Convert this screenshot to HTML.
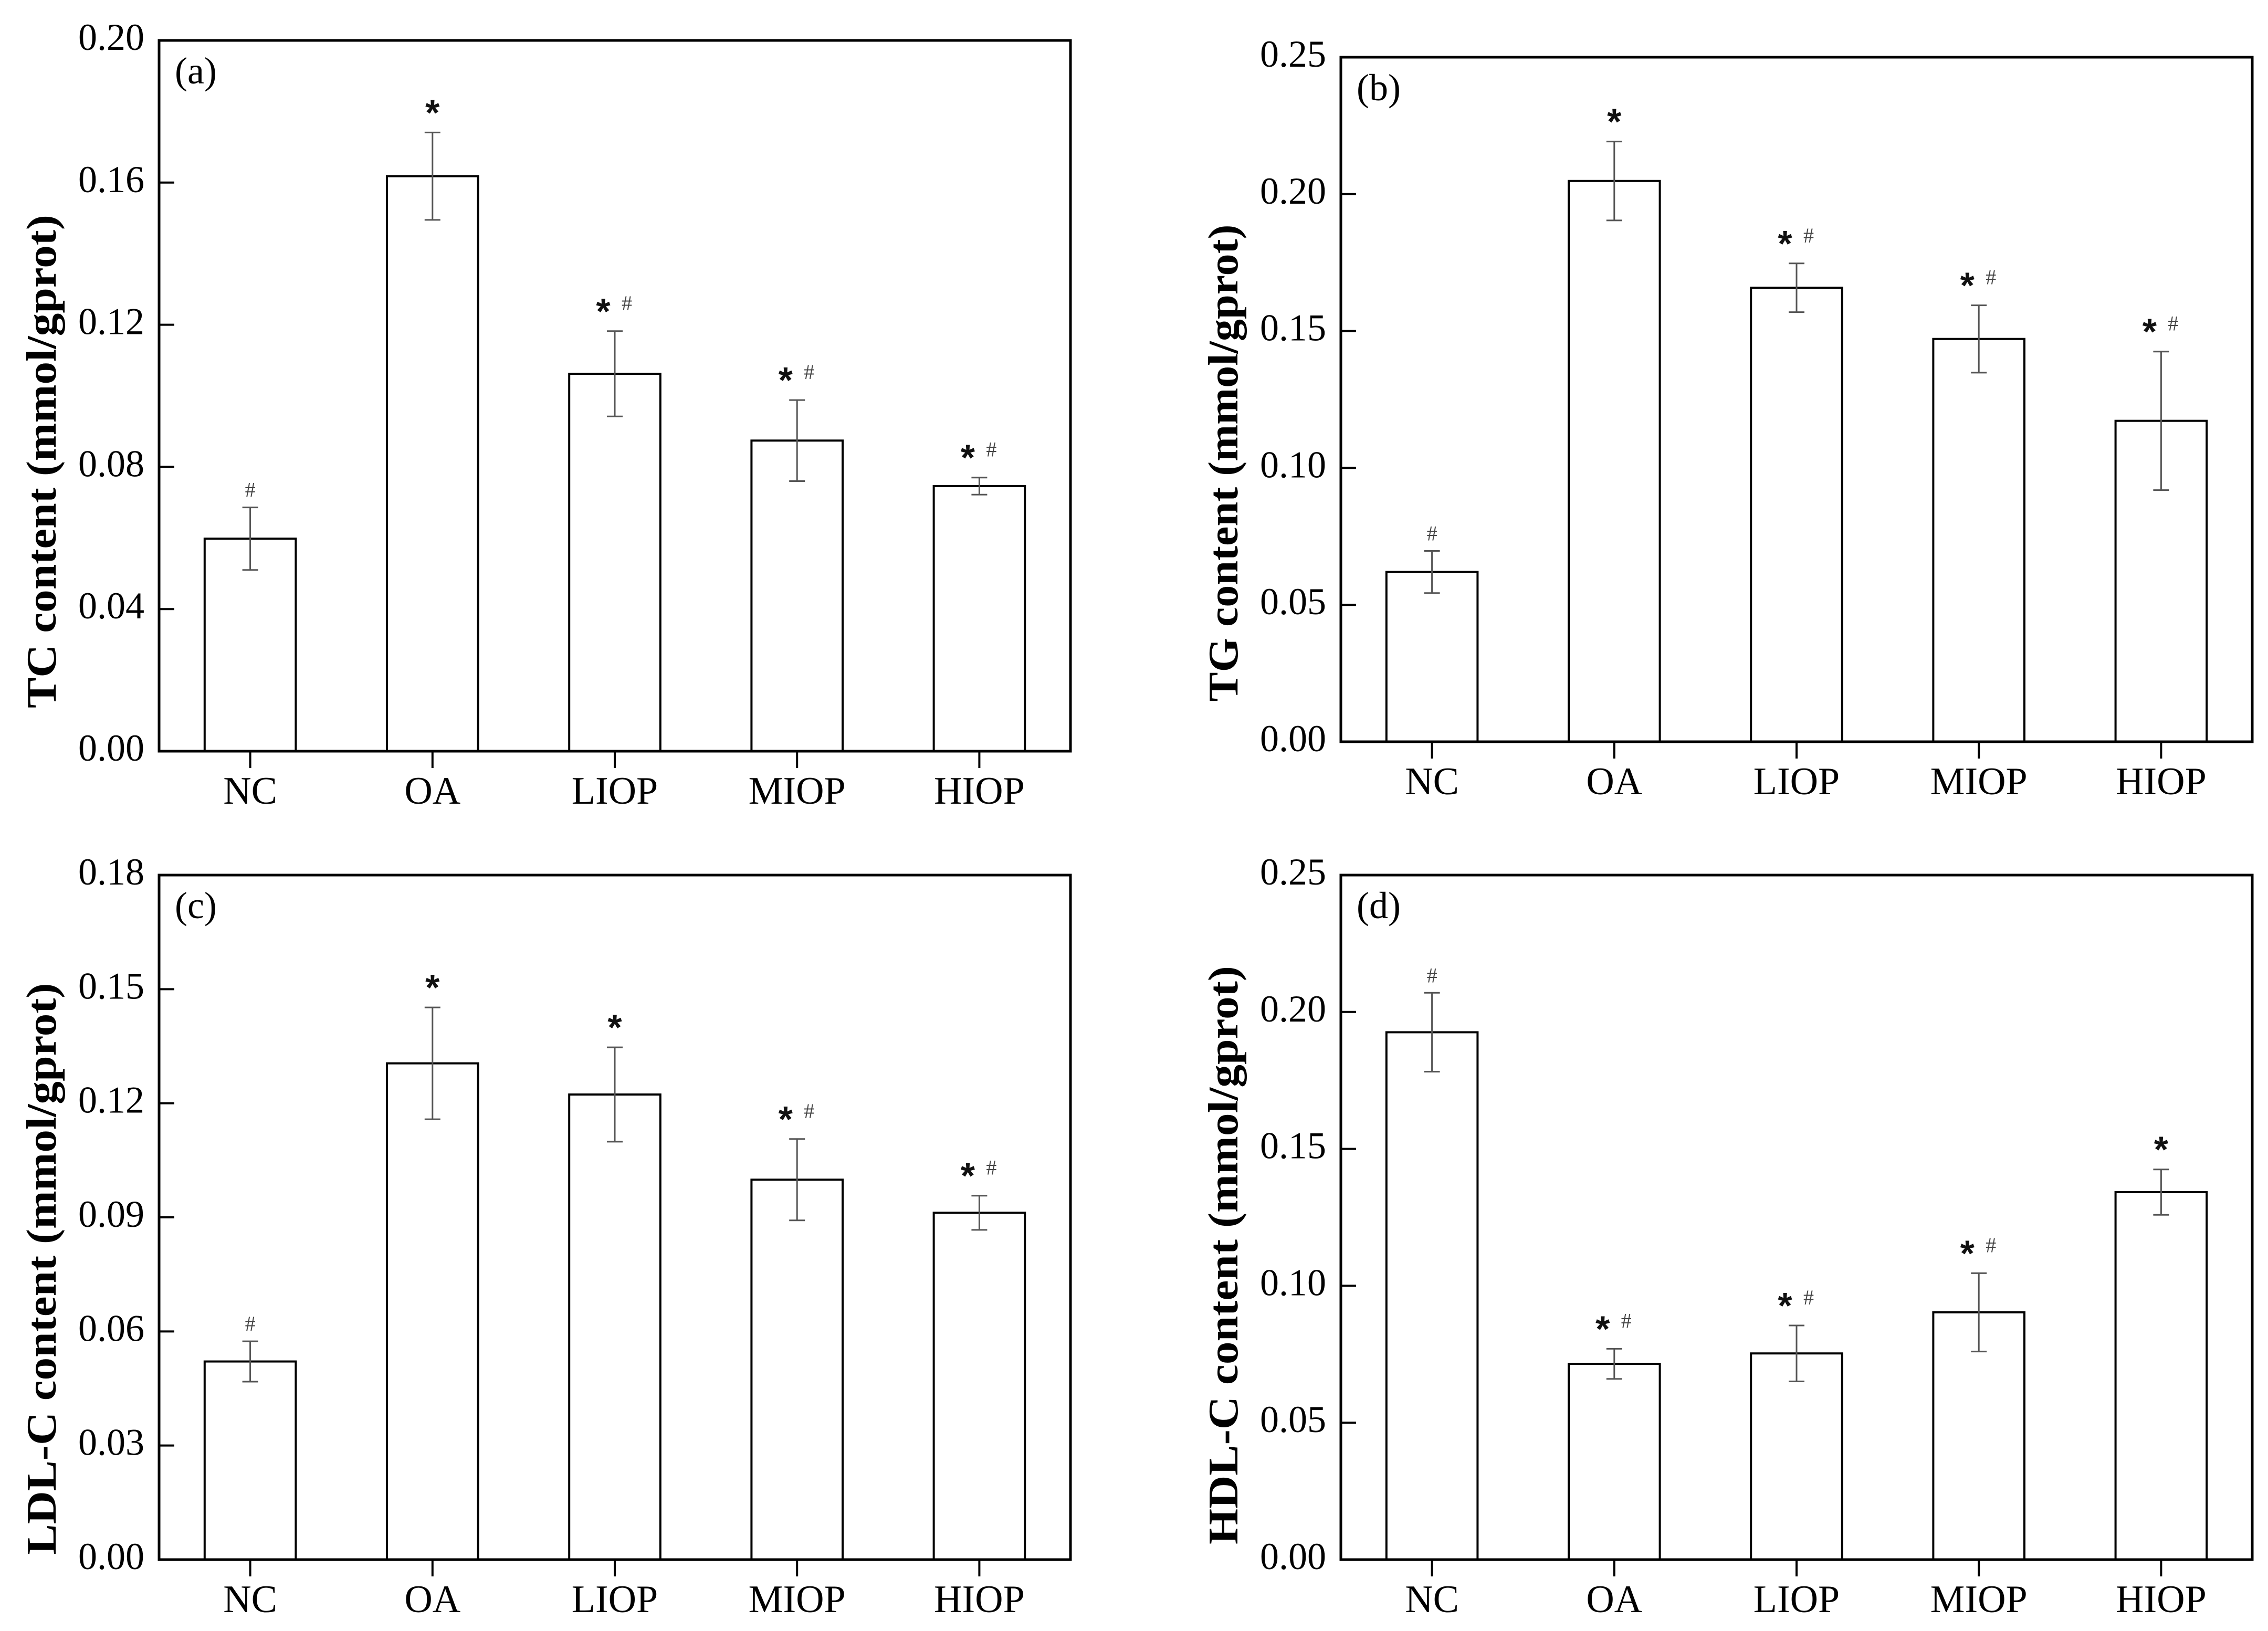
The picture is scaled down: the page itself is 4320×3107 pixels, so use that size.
<!DOCTYPE html>
<html><head><meta charset="utf-8"><title>Lipid content panels</title>
<style>
html,body{margin:0;padding:0;background:#fff;}
svg{display:block;}
</style></head>
<body>
<svg id="fig" xmlns="http://www.w3.org/2000/svg" width="4320" height="3107" viewBox="0 0 4320 3107">
<rect x="0" y="0" width="4320" height="3107" fill="#fff"/>
</svg>
<script>
const categories = ["NC","OA","LIOP","MIOP","HIOP"];
const tcMean  = [0.0598,0.1618,0.1062,0.0874,0.0746];
const tcErr   = [0.0088,0.0123,0.0120,0.0114,0.0024];
const tcMarks = ["#","*","*#","*#","*#"];
const tcTicks = ["0.00","0.04","0.08","0.12","0.16","0.20"];
const tgMean  = [0.0620,0.2048,0.1658,0.1471,0.1172];
const tgErr   = [0.0077,0.0144,0.0089,0.0123,0.0253];
const tgMarks = ["#","*","*#","*#","*#"];
const tgTicks = ["0.00","0.05","0.10","0.15","0.20","0.25"];
const ldlMean = [0.0521,0.1305,0.1223,0.0999,0.0912];
const ldlErr  = [0.0053,0.0147,0.0124,0.0107,0.0045];
const ldlMarks= ["#","*","*","*#","*#"];
const ldlTicks= ["0.00","0.03","0.06","0.09","0.12","0.15","0.18"];
const hdlMean = [0.1926,0.0715,0.0753,0.0903,0.1342];
const hdlErr  = [0.0144,0.0055,0.0102,0.0143,0.0083];
const hdlMarks= ["#","*#","*#","*#","*"];
const hdlTicks= ["0.00","0.05","0.10","0.15","0.20","0.25"];

const NS="http://www.w3.org/2000/svg";
const svg=document.getElementById('fig');
function mk(tag,attrs,parent){const e=document.createElementNS(NS,tag);for(const k in attrs)e.setAttribute(k,attrs[k]);(parent||svg).appendChild(e);return e;}

function panel(id,L,T,B,ymax,ticks,means,errs,marks,label,title,titleX,titleC,titleLen){
  const W=1736, R=L+W;
  const g=mk('g',{});
  
  
  const y=v=>B-(v/ymax)*(B-T);
  const step=W/categories.length;
  const x=i=>L+step*(i+0.5);
  const bw=step*0.5;
  // bars
  categories.forEach((c,i)=>{
    const r=mk('rect',{x:x(i)-bw/2,y:y(means[i]),width:bw,height:B-y(means[i]),fill:'#fff',stroke:'#000','stroke-width':4},g);
    
    
    const top=y(means[i]+errs[i]), bot=y(means[i]-errs[i]);
    const eg=mk('g',{stroke:'#555','stroke-width':3},g);
    
    
    mk('line',{x1:x(i),x2:x(i),y1:top,y2:bot},eg);
    mk('line',{x1:x(i)-15,x2:x(i)+15,y1:top,y2:top},eg);
    mk('line',{x1:x(i)-15,x2:x(i)+15,y1:bot,y2:bot},eg);
    const m=marks[i]; const cy=top-54;
    if(m.indexOf('*')>=0){
      const sx = m.length>1 ? x(i)-22 : x(i);
      const s=mk('text',{x:sx,y:cy+40,'text-anchor':'middle','font-family':'"Liberation Sans",sans-serif','font-weight':'bold','font-size':70,fill:'#111'},g);
      s.textContent='*';
      
      
    }
    if(m.indexOf('#')>=0){
      const hx = m.length>1 ? x(i)+23 : x(i);
      const hy = m.length>1 ? cy : top-34;
      const h=mk('text',{x:hx,y:hy+14,'text-anchor':'middle','font-family':'"Liberation Serif",serif','font-size':40,fill:'#444'},g);
      h.textContent='#';
      
      
    }
    // x tick + label
    const tk=mk('line',{x1:x(i),x2:x(i),y1:B,y2:B+32,stroke:'#000','stroke-width':4},g);
    
    
    const xl=mk('text',{x:x(i),y:B+100,'text-anchor':'middle','font-family':'"Liberation Serif",serif','font-size':74,fill:'#000'},g);
    xl.textContent=c;
    
    
  });
  // y ticks
  ticks.forEach(t=>{
    const v=parseFloat(t), yy=y(v);
    if(v>0&&v<ymax){const l=mk('line',{x1:L,x2:L+29,y1:yy,y2:yy,stroke:'#000','stroke-width':4},g);
      
      }
    const tl=mk('text',{x:L-28,y:yy+18,'text-anchor':'end','font-family':'"Liberation Serif",serif','font-size':72,fill:'#000'},g);
    tl.textContent=t;
    
    
  });
  // frame
  const fr=mk('rect',{x:L,y:T,width:W,height:B-T,fill:'none',stroke:'#000','stroke-width':5},g);
  
  
  const pl=mk('text',{x:L+30,y:T+82,'font-family':'"Liberation Serif",serif','font-size':72,fill:'#000'},g);
  pl.textContent=label;
  
  
  const yt=mk('text',{x:titleX,y:titleC,'text-anchor':'middle','font-family':'"Liberation Serif",serif','font-weight':'bold','font-size':80,fill:'#000',textLength:titleLen,lengthAdjust:'spacingAndGlyphs',transform:'rotate(-90 '+titleX+' '+titleC+')'},g);
  yt.textContent=title;
  
  
}
panel('a',303,77,1431,0.20,tcTicks,tcMean,tcErr,tcMarks,'(a)','TC content (mmol/gprot)',106,879,940);
panel('b',2554,109,1413,0.25,tgTicks,tgMean,tgErr,tgMarks,'(b)','TG content (mmol/gprot)',2357,882,909);
panel('c',303,1667,2971,0.18,ldlTicks,ldlMean,ldlErr,ldlMarks,'(c)','LDL-C content (mmol/gprot)',106,2417,1089);
panel('d',2554,1667,2971,0.25,hdlTicks,hdlMean,hdlErr,hdlMarks,'(d)','HDL-C content (mmol/gprot)',2357,2391,1102);
</script>
</body></html>
